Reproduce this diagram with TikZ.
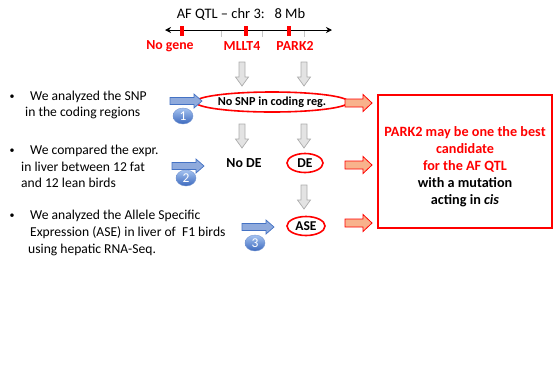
\documentclass[tikz,border=0pt]{standalone}
\usepackage{fontspec}
\setmainfont{Carlito}
\usetikzlibrary{shapes.geometric,arrows.meta}
\definecolor{pptred}{RGB}{255,0,0}
\definecolor{salmon}{RGB}{248,178,140}
\definecolor{ltblue}{RGB}{143,170,220}
\definecolor{dkblue}{RGB}{68,114,196}
\definecolor{balltop}{RGB}{165,195,240}
\definecolor{ballbot}{RGB}{60,105,190}
\tikzset{
  txt/.style={font=\fontsize{13.6}{16.5}\selectfont, inner sep=0pt},
  redlbl/.style={font=\fontsize{13.8}{15}\selectfont\bfseries, text=pptred, inner sep=0pt},
  oval/.style={ellipse, draw=pptred, line width=1.6pt, inner sep=0pt, font=\fontsize{13.5}{15}\selectfont\bfseries},
  downarr/.pic={\draw[fill=gray!22, draw=gray!65, line width=0.7pt]
     (-3,0) -- (3,0) -- (3,15) -- (6.5,15) -- (0,24) -- (-6.5,15) -- (-3,15) -- cycle;},
  bluearr/.pic={\draw[fill=ltblue, draw=dkblue, line width=0.7pt]
     (0,-3.5) -- (24,-3.5) -- (24,-7) -- (32,0) -- (24,7) -- (24,3.5) -- (0,3.5) -- cycle;},
  redarr/.pic={\draw[fill=salmon, draw=pptred, line width=0.8pt]
     (0,-4) -- (18,-4) -- (18,-8.5) -- (27,0) -- (18,8.5) -- (18,4) -- (0,4) -- cycle;},
  ball/.style={ellipse, minimum width=20pt, minimum height=16pt, inner sep=0pt,
     top color=balltop, bottom color=ballbot, draw=ballbot!70, line width=0.4pt,
     text=white, font=\fontsize{13.5}{14}\selectfont}
}
\begin{document}
\begin{tikzpicture}[x=1pt,y=-1pt]
\useasboundingbox (0,0) rectangle (553,376);
% header
\node[txt, font=\fontsize{14.5}{16}\selectfont] (title) at (241,14) {AF QTL -- chr 3:\ \ \ 8 Mb};
\coordinate (axL) at (165,30);
\coordinate (axR) at (332,30);
\foreach \x in {221,262,304} \draw[gray!45, line width=0.6pt] (\x,30) -- (\x,37);
\draw[{Stealth[length=6pt,width=6pt]}-{Stealth[length=6pt,width=6pt]}, line width=1pt] (axL) -- (axR);
\foreach \x in {182,246,289} \fill[pptred] (\x-2,26) rectangle (\x+2,36);
\node[redlbl] (nogene) at (170,46) {No gene};
\node[redlbl] (mllt4) at (242,46) {MLLT4};
\node[redlbl] (park2) at (295,46) {PARK2};
% grey arrows
\pic (g1) at (242,62) {downarr};
\pic (g2) at (304,62) {downarr};
\pic (g3) at (242,124) {downarr};
\pic (g4) at (304,124) {downarr};
\pic (g5) at (304,185) {downarr};
% result nodes
\node[oval, minimum width=129pt, minimum height=20pt, font=\fontsize{12.2}{14}\selectfont\bfseries] (snp) at (272,102) {No SNP in coding reg.};
\node[txt, font=\fontsize{13.8}{15}\selectfont\bfseries] (node) at (244,163) {No DE};
\node[oval, minimum width=36pt, minimum height=19pt] (de) at (305,163) {DE};
\node[oval, minimum width=38pt, minimum height=19pt] (ase) at (306,226) {ASE};
% blue arrows and balls
\pic (b1) at (170,101) {bluearr};
\pic (b2) at (172,166) {bluearr};
\pic (b3) at (242,227) {bluearr};
\node[ball] (n1) at (183,116) {1};
\node[ball] (n2) at (186,178) {2};
\node[ball] (n3) at (255,243) {3};
% red arrows
\pic (r1) at (345,103) {redarr};
\pic (r2) at (345,165) {redarr};
\pic (r3) at (345,223) {redarr};
% conclusion box
\node[draw=pptred, line width=1.2pt, minimum width=174pt, minimum height=133pt, inner sep=0pt] (box) at (465,161.5) {};
\node[align=center, font=\fontsize{14.2}{17}\selectfont\bfseries, inner sep=0pt] (concl) at (465,167)
  {\textcolor{pptred}{PARK2 may be one the best}\\ \textcolor{pptred}{candidate}\\ \textcolor{pptred}{for the AF QTL}\\ with a mutation\\ acting in \textit{cis}};
% bullets
\node[txt, font=\fontsize{10}{12}\selectfont] (d1) at (12,97) {\textbullet};
\node[txt, anchor=west] (t1a) at (30,97) {We analyzed the SNP};
\node[txt, anchor=west] (t1b) at (25,113) {in the coding regions};
\node[txt, font=\fontsize{10}{12}\selectfont] (d2) at (12,151) {\textbullet};
\node[txt, anchor=west] (t2a) at (30,151) {We compared the expr.};
\node[txt, anchor=west] (t2b) at (21,167) {in liver between 12 fat};
\node[txt, anchor=west] (t2c) at (21,183) {and 12 lean birds};
\node[txt, font=\fontsize{10}{12}\selectfont] (d3) at (12,216) {\textbullet};
\node[txt, anchor=west] (t3a) at (30,216) {We analyzed the Allele Specific};
\node[txt, anchor=west] (t3b) at (30,233) {Expression (ASE) in liver of\ \ F1 birds};
\node[txt, anchor=west] (t3c) at (28,250) {using hepatic RNA-Seq.};
\end{tikzpicture}
\end{document}
